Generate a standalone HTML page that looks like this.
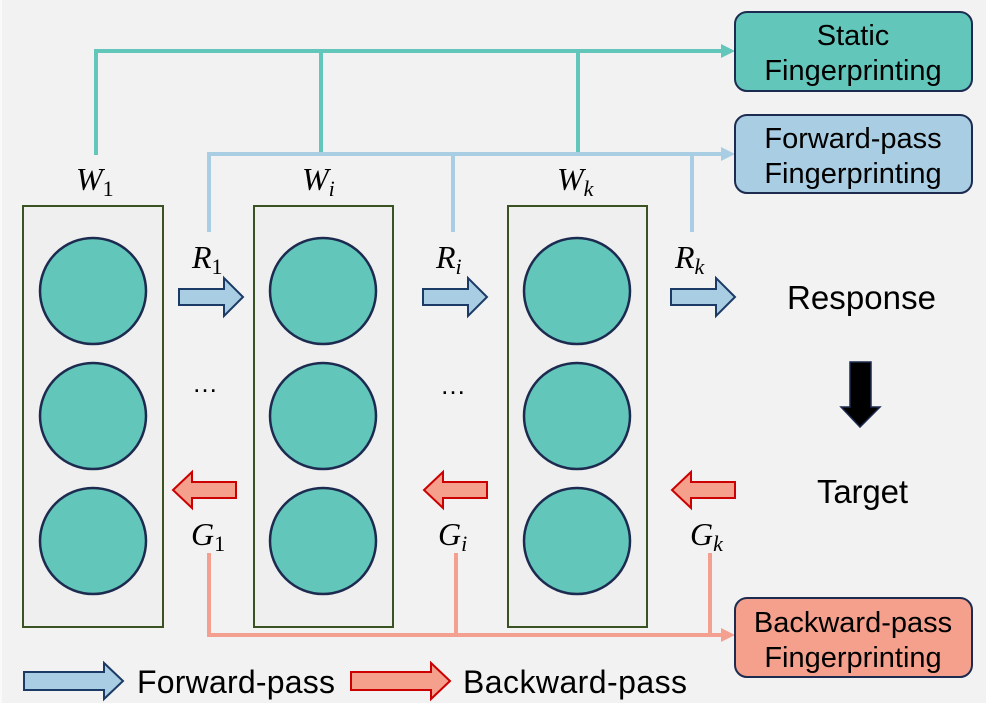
<!DOCTYPE html>
<html><head><style>
html,body{margin:0;padding:0;background:#f2f2f2;}
svg{display:block;}
.m{font-family:"Liberation Serif",serif;font-style:italic;font-size:32px;fill:#000;}
.s{font-size:22px;font-style:normal;}
.si{font-size:22px;}
.t{font-family:"Liberation Sans",sans-serif;font-size:29px;fill:#000;}
</style></head><body>
<svg width="986" height="703" viewBox="0 0 986 703" xmlns="http://www.w3.org/2000/svg">
<rect x="0" y="0" width="986" height="703" fill="#f2f2f2"/>
<rect x="0" y="0" width="2" height="703" fill="#fafafa"/>
<g stroke="#63c6bb" stroke-width="4" fill="none">
<polyline points="96,155 96,51 723,51"/>
<line x1="321" y1="51" x2="321" y2="153"/>
<line x1="578" y1="51" x2="578" y2="153"/>
</g>
<polygon points="721,44 735,51 721,58" fill="#63c6bb"/>
<g stroke="#a9cde2" stroke-width="4" fill="none">
<polyline points="209,232 209,154 723,154"/>
<line x1="453" y1="154" x2="453" y2="232"/>
<line x1="692" y1="154" x2="692" y2="232"/>
</g>
<polygon points="721,147 735,154 721,161" fill="#a9cde2"/>
<g stroke="#f4a090" stroke-width="4" fill="none">
<polyline points="209,553 209,635 723,635"/>
<line x1="456" y1="553" x2="456" y2="635"/>
<line x1="710" y1="553" x2="710" y2="635"/>
</g>
<polygon points="721,628 735,635 721,642" fill="#f4a090"/>
<g fill="#efefef" stroke="#3b5323" stroke-width="2">
<rect x="23" y="206" width="140" height="421"/>
<rect x="254" y="206" width="139" height="421"/>
<rect x="508" y="206" width="139" height="421"/>
</g>
<g fill="#63c6bb" stroke="#1c2b4f" stroke-width="2.5">
<circle cx="93" cy="291" r="53"/><circle cx="93" cy="416" r="53"/><circle cx="93" cy="541" r="53"/>
<circle cx="323" cy="291" r="53"/><circle cx="323" cy="416" r="53"/><circle cx="323" cy="541" r="53"/>
<circle cx="577" cy="291" r="53"/><circle cx="577" cy="416" r="53"/><circle cx="577" cy="541" r="53"/>
</g>
<text class="m" x="76" y="190">W<tspan class="s" dy="6">1</tspan></text>
<text class="m" x="302" y="190">W<tspan class="si" dy="6">i</tspan></text>
<text class="m" x="557" y="190">W<tspan class="si" dy="6">k</tspan></text>
<text class="m" x="192" y="268">R<tspan class="s" dy="6">1</tspan></text>
<text class="m" x="436" y="268">R<tspan class="si" dy="6">i</tspan></text>
<text class="m" x="675" y="268">R<tspan class="si" dy="6">k</tspan></text>
<text class="m" x="191" y="545">G<tspan class="s" dy="6">1</tspan></text>
<text class="m" x="438" y="545">G<tspan class="si" dy="6">i</tspan></text>
<text class="m" x="690" y="545">G<tspan class="si" dy="6">k</tspan></text>
<text class="t" x="192" y="392" style="font-size:26px">…</text>
<text class="t" x="440" y="394" style="font-size:26px">…</text>
<g fill="#a9cde2" stroke="#1c3a66" stroke-width="2">
<polygon points="179,289 224,289 224,278 243,297 224,316 224,305 179,305"/>
<polygon points="423,289 468,289 468,278 487,297 468,316 468,305 423,305"/>
<polygon points="671,289 716,289 716,278 735,297 716,316 716,305 671,305"/>
<polygon points="24,672 104,672 104,663 123,681 104,699 104,690 24,690"/>
</g>
<g fill="#f4a08c" stroke="#cc0000" stroke-width="2">
<polygon points="236,482 192,482 192,472 173,490 192,508 192,498 236,498"/>
<polygon points="487,482 443,482 443,472 424,490 443,508 443,498 487,498"/>
<polygon points="735,482 691,482 691,472 672,490 691,508 691,498 735,498"/>
<polygon points="351,672 431,672 431,663 450,681 431,699 431,690 351,690"/>
</g>
<polygon points="850,362 871,362 871,407 880,407 860,427 841,407 850,407" fill="#000" stroke="#1c2b4f" stroke-width="1.5"/>
<text class="t" x="787" y="309" style="font-size:33px" textLength="149">Response</text>
<text class="t" x="817" y="503" style="font-size:33px" textLength="91">Target</text>
<rect x="735" y="12" width="237" height="79" rx="12" fill="#63c6bb" stroke="#1c2b4f" stroke-width="2"/>
<text class="t" x="853" y="45" text-anchor="middle">Static</text>
<text class="t" x="853" y="80" text-anchor="middle">Fingerprinting</text>
<rect x="735" y="115" width="237" height="78" rx="12" fill="#a9cde2" stroke="#1c2b4f" stroke-width="2"/>
<text class="t" x="853" y="148" text-anchor="middle">Forward-pass</text>
<text class="t" x="853" y="183" text-anchor="middle">Fingerprinting</text>
<rect x="735" y="598" width="237" height="79" rx="12" fill="#f4a08c" stroke="#1c2b4f" stroke-width="2"/>
<text class="t" x="853" y="632" text-anchor="middle">Backward-pass</text>
<text class="t" x="853" y="667" text-anchor="middle">Fingerprinting</text>
<text class="t" x="137" y="693" style="font-size:32px" textLength="198">Forward-pass</text>
<text class="t" x="463" y="693" style="font-size:32px" textLength="224">Backward-pass</text>
</svg>
</body></html>
